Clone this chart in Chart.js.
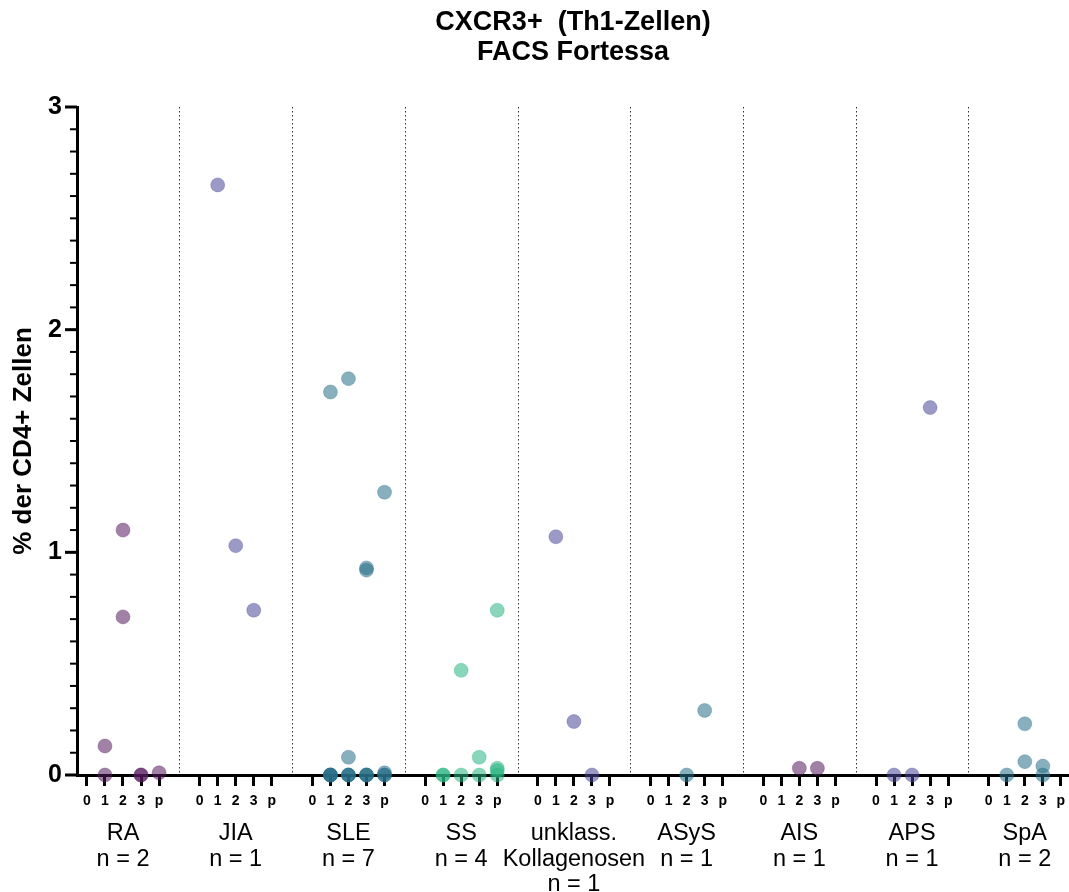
<!DOCTYPE html>
<html>
<head>
<meta charset="utf-8">
<title>CXCR3+ (Th1-Zellen)</title>
<script src="https://cdn.jsdelivr.net/npm/chart.js@4.4.1/dist/chart.umd.min.js"></script>
<style>
  html, body { margin: 0; padding: 0; background: #fff; }
</style>
</head>
<body>
<canvas id="cxcr3Chart" width="1069" height="892"></canvas>
<script>
// Gruppen und Zeitpunkte
const groupNames = [['RA'], ['JIA'], ['SLE'], ['SS'], ['unklass.', 'Kollagenosen'], ['ASyS'], ['AIS'], ['APS'], ['SpA']];
const groupN = [2, 1, 7, 4, 1, 1, 1, 1, 2];
const timepoints = ['0', '1', '2', '3', 'p'];
const yTicks = [0, 1, 2, 3];

// Werte je Zeitpunkt (0, 1, 2, 3, p), % der CD4+ Zellen
const raValues = [[], [0.13, 0], [1.10, 0.71], [0, 0], [0.01]];
const jiaValues = [[], [2.65], [1.03], [0.74], []];
const sleValues = [[], [1.72, 0, 0, 0, 0], [1.78, 0.08, 0, 0, 0], [0.93, 0.92, 0, 0, 0], [1.27, 0.01, 0, 0]];
const ssValues = [[], [0, 0], [0.47, 0], [0.08, 0], [0.74, 0.03, 0.02, 0]];
const unklassValues = [[], [1.07], [0.24], [0], []];
const asysValues = [[], [], [0], [0.29], []];
const aisValues = [[], [], [0.03], [0.03], []];
const apsValues = [[], [0], [0], [1.65], []];
const spaValues = [[], [0], [0.23, 0.06], [0.04, 0], []];

const groupValues = [raValues, jiaValues, sleValues, ssValues, unklassValues, asysValues, aisValues, apsValues, spaValues];
const groupColors = ['85, 25, 95', '72, 70, 150', '38, 110, 135', '40, 180, 130', '72, 70, 150', '38, 110, 135', '85, 25, 95', '72, 70, 150', '38, 110, 135'];

const GROUP_STEP = 6.25;
const FONT = "'Liberation Sans', Arial, sans-serif";

Chart.defaults.font.family = FONT;
Chart.defaults.color = '#000';

const datasets = groupValues.map((vals, g) => ({
    label: groupNames[g].join(' '),
    data: vals.flatMap((arr, t) => arr.map(v => ({ x: g * GROUP_STEP + t, y: v }))),
    backgroundColor: `rgba(${groupColors[g]}, 0.55)`,
    borderColor: `rgba(${groupColors[g]}, 0.3)`,
    borderWidth: 1,
    pointRadius: 7,
    pointHoverRadius: 7,
    clip: false
}));

// Trennlinien, Achsenstriche, Titel und Gruppenbeschriftung
const framePlugin = {
    id: 'frame',
    beforeDatasetsDraw(chart) {
        const { ctx, chartArea, scales: { x } } = chart;
        ctx.save();
        ctx.strokeStyle = '#333';
        ctx.lineWidth = 1;
        ctx.setLineDash([1.5, 2.5]);
        for (let g = 1; g < groupNames.length; g++) {
            const px = Math.round(x.getPixelForValue(g * GROUP_STEP - (GROUP_STEP - 4) / 2)) + 0.5;
            ctx.beginPath();
            ctx.moveTo(px, chartArea.top);
            ctx.lineTo(px, chartArea.bottom);
            ctx.stroke();
        }
        ctx.restore();
    },
    afterDraw(chart) {
        const { ctx, chartArea, scales: { x, y } } = chart;
        ctx.save();
        // y-Achse: Haupt- und Nebenstriche
        ctx.strokeStyle = '#000';
        for (let i = 0; i <= 30; i++) {
            const py = y.getPixelForValue(i / 10);
            const major = i % 10 === 0;
            ctx.lineWidth = major ? 3 : 2;
            ctx.beginPath();
            ctx.moveTo(chartArea.left - (major ? 12 : 7), py);
            ctx.lineTo(chartArea.left, py);
            ctx.stroke();
        }
        // Titel
        const cx = (chartArea.left + chartArea.right) / 2;
        ctx.fillStyle = '#000';
        ctx.textAlign = 'center';
        ctx.textBaseline = 'middle';
        ctx.font = `bold 27px ${FONT}`;
        ctx.fillText('CXCR3+  (Th1-Zellen)', cx, 23);
        ctx.fillText('FACS Fortessa', cx, 53);
        // Gruppen unter der x-Achse
        ctx.font = `23.5px ${FONT}`;
        groupNames.forEach((name, g) => {
            const px = x.getPixelForValue(g * GROUP_STEP + 2);
            const lines = [...name, 'n = ' + groupN[g]];
            lines.forEach((line, k) => {
                ctx.fillText(line, px, chartArea.bottom + 59 + k * 25.5);
            });
        });
        ctx.restore();
    }
};

const ctx = document.getElementById('cxcr3Chart').getContext('2d');
new Chart(ctx, {
    type: 'scatter',
    data: { datasets },
    options: {
        responsive: false,
        animation: false,
        layout: { autoPadding: false, padding: { top: 107, right: 0, bottom: 0, left: 0 } },
        plugins: {
            legend: { display: false },
            tooltip: { enabled: false }
        },
        scales: {
            x: {
                type: 'linear',
                min: -0.55,
                max: 8 * GROUP_STEP + 4.45,
                afterBuildTicks(scale) {
                    const ticks = [];
                    groupNames.forEach((n, g) => timepoints.forEach((t, k) => ticks.push({ value: g * GROUP_STEP + k })));
                    scale.ticks = ticks;
                },
                afterFit(scale) {
                    scale.height = 117;
                    scale.paddingLeft = 0;
                    scale.paddingRight = 0;
                },
                ticks: {
                    autoSkip: false,
                    maxRotation: 0,
                    padding: 7,
                    font: { size: 14, weight: 'bold' },
                    callback: (value, index) => timepoints[index % timepoints.length]
                },
                grid: {
                    drawOnChartArea: false,
                    drawTicks: true,
                    tickLength: 11,
                    tickWidth: 3,
                    tickColor: '#000'
                },
                border: { color: '#000', width: 3 }
            },
            y: {
                min: 0,
                max: 3,
                afterBuildTicks(scale) { scale.ticks = yTicks.map(v => ({ value: v })); },
                afterFit(scale) { scale.width = 77; },
                ticks: {
                    padding: 15,
                    font: { size: 25, weight: 'bold' }
                },
                grid: { display: false, drawTicks: false },
                border: { color: '#000', width: 3 },
                title: {
                    display: true,
                    text: '% der CD4+ Zellen',
                    font: { size: 26, weight: 'bold' },
                    padding: { top: 8, bottom: 0 }
                }
            }
        }
    },
    plugins: [framePlugin]
});
</script>
</body>
</html>
